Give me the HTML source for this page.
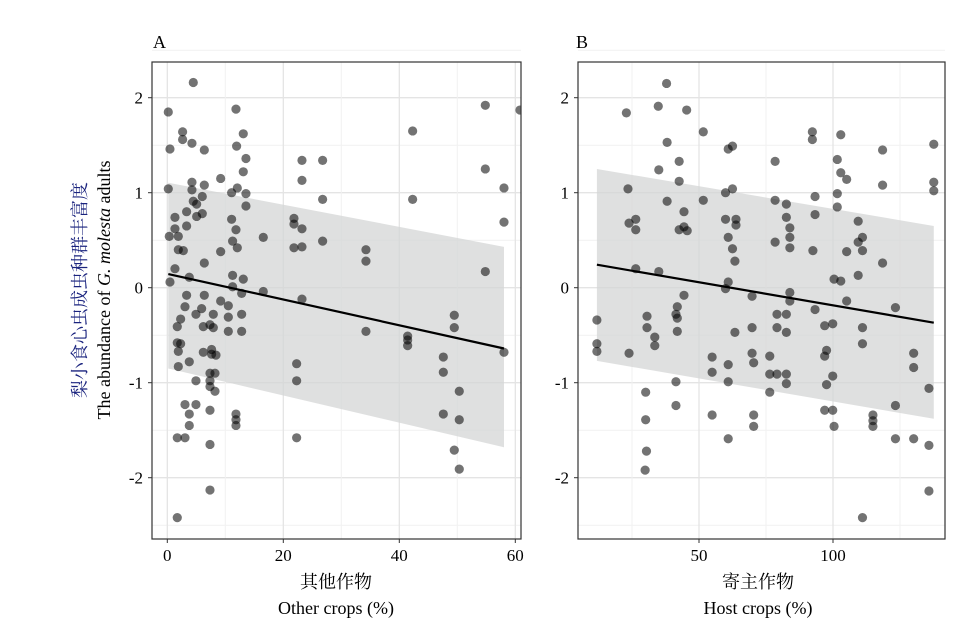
<!DOCTYPE html>
<html><head><meta charset="utf-8"><style>
html,body{margin:0;padding:0;background:#fff;}
svg{display:block;font-family:"Liberation Serif","Noto Serif CJK SC",serif;}
</style></head><body>
<svg id="chart" width="965" height="633" viewBox="0 0 965 633" xmlns="http://www.w3.org/2000/svg">
<text x="153" y="48" font-size="18">A</text>
<text x="576" y="48" font-size="18">B</text>
<g transform="translate(86,290) rotate(-90)">
<text text-anchor="middle" font-size="18" fill="#1a237e" font-family="'Liberation Serif','Noto Serif CJK SC',serif">梨小食心虫成虫种群丰富度</text>
<text text-anchor="middle" y="24" font-size="18" fill="#000">The abundance of <tspan font-style="italic">G. molesta</tspan> adults</text>
</g>
<text x="336" y="588" text-anchor="middle" font-size="18" font-family="'Liberation Serif','Noto Serif CJK SC',serif">其他作物</text>
<text x="336" y="614" text-anchor="middle" font-size="18">Other crops (%)</text>
<text x="758" y="588" text-anchor="middle" font-size="18" font-family="'Liberation Serif','Noto Serif CJK SC',serif">寄主作物</text>
<text x="758" y="614" text-anchor="middle" font-size="18">Host crops (%)</text>
</svg>
<script>
const aX=[4.48,0.17,11.84,2.64,2.64,4.25,13.10,0.46,6.38,11.95,13.56,13.10,23.22,26.78,23.22,9.20,0.17,4.25,4.25,6.38,12.07,11.09,13.56,6.03,4.48,5.06,26.78,13.56,3.33,1.32,6.03,5.06,3.33,1.32,0.34,1.90,11.09,11.84,21.84,21.84,23.22,11.26,12.07,16.55,26.78,1.90,2.76,9.20,21.84,23.22,6.38,1.32,0.46,3.79,11.26,13.10,11.26,12.82,16.55,23.22,3.33,6.38,9.20,10.52,3.05,5.92,4.94,7.93,2.30,1.72,7.36,6.21,7.93,10.52,12.82,10.52,12.82,1.72,2.30,1.90,6.21,7.64,7.64,8.39,3.79,1.90,22.30,7.36,8.22,7.36,7.36,8.22,4.94,22.30,3.05,4.94,3.79,3.79,7.36,11.84,11.84,11.84,1.72,3.05,7.36,22.30,7.36,1.72,54.83,42.30,54.83,58.05,42.30,58.05,34.25,34.25,54.83,49.48,49.48,34.25,41.44,41.44,41.44,58.05,47.59,47.59,50.34,47.59,50.34,49.48,50.34,60.8];
const aY=[2.16,1.85,1.88,1.64,1.56,1.52,1.62,1.46,1.45,1.49,1.36,1.22,1.34,1.34,1.13,1.15,1.04,1.11,1.03,1.08,1.05,1.00,0.99,0.96,0.91,0.88,0.93,0.86,0.80,0.74,0.78,0.75,0.65,0.62,0.54,0.54,0.72,0.61,0.73,0.67,0.62,0.49,0.42,0.53,0.49,0.40,0.39,0.38,0.42,0.43,0.26,0.20,0.06,0.11,0.13,0.09,0.01,-0.06,-0.04,-0.12,-0.08,-0.08,-0.14,-0.19,-0.20,-0.22,-0.28,-0.28,-0.33,-0.41,-0.39,-0.41,-0.42,-0.31,-0.28,-0.46,-0.46,-0.58,-0.59,-0.67,-0.68,-0.65,-0.70,-0.71,-0.78,-0.83,-0.80,-0.90,-0.90,-0.98,-1.04,-1.09,-0.98,-0.98,-1.23,-1.23,-1.33,-1.45,-1.29,-1.33,-1.39,-1.45,-1.58,-1.58,-1.65,-1.58,-2.13,-2.42,1.92,1.65,1.25,1.05,0.93,0.69,0.40,0.28,0.17,-0.29,-0.42,-0.46,-0.51,-0.55,-0.61,-0.68,-0.73,-0.89,-1.09,-1.33,-1.39,-1.71,-1.91,1.87];
const aFitX=[0.17,58.05];
const aFitY=[0.144,-0.64];
const aBandHigh=[1.105,0.43];
const aBandLow=[-0.85,-1.68];
const bX=[37.9,22.9,34.8,45.4,51.6,38.1,92.3,92.3,102.9,60.9,62.5,137.6,118.5,78.4,42.6,101.6,35.0,102.9,105.1,42.6,118.5,137.6,137.6,23.5,62.5,59.9,51.6,38.1,78.4,82.6,93.3,101.6,101.6,44.4,93.3,82.6,59.9,63.8,63.8,23.9,26.4,26.4,42.6,44.4,45.6,109.4,83.9,83.9,60.9,111.0,109.4,78.4,83.9,62.5,92.5,105.1,111.0,63.4,118.5,26.4,35.0,109.4,100.4,102.9,60.9,59.9,69.8,83.9,83.9,105.1,44.4,41.9,41.4,41.9,93.3,123.3,11.9,30.6,30.6,33.5,33.5,41.9,63.4,69.8,79.1,82.6,79.1,82.6,96.9,99.9,111.0,111.0,11.9,11.9,23.9,69.8,70.4,76.4,54.9,60.9,96.9,97.6,130.1,130.1,54.9,76.4,79.1,82.6,82.6,60.9,41.4,99.9,97.6,135.8,30.1,41.4,76.4,123.3,54.9,70.4,70.4,96.9,99.9,114.9,114.9,114.9,100.4,30.1,60.9,123.3,130.1,135.8,30.4,29.9,135.8,111.0];
const bY=[2.15,1.84,1.91,1.87,1.64,1.53,1.64,1.56,1.61,1.46,1.49,1.51,1.45,1.33,1.33,1.35,1.24,1.21,1.14,1.12,1.08,1.11,1.02,1.04,1.04,1.00,0.92,0.91,0.92,0.88,0.96,0.99,0.85,0.80,0.77,0.74,0.72,0.72,0.66,0.68,0.72,0.61,0.61,0.64,0.60,0.70,0.63,0.53,0.53,0.53,0.48,0.48,0.42,0.41,0.39,0.38,0.39,0.28,0.26,0.20,0.17,0.13,0.09,0.07,0.06,-0.01,-0.09,-0.05,-0.14,-0.14,-0.08,-0.20,-0.28,-0.32,-0.23,-0.21,-0.34,-0.30,-0.42,-0.52,-0.61,-0.46,-0.47,-0.42,-0.28,-0.28,-0.42,-0.47,-0.40,-0.38,-0.42,-0.59,-0.59,-0.67,-0.69,-0.69,-0.79,-0.72,-0.73,-0.81,-0.72,-0.66,-0.69,-0.84,-0.89,-0.91,-0.91,-0.91,-1.01,-0.99,-0.99,-0.93,-1.02,-1.06,-1.10,-1.24,-1.10,-1.24,-1.34,-1.34,-1.46,-1.29,-1.29,-1.34,-1.40,-1.46,-1.46,-1.39,-1.59,-1.59,-1.59,-1.66,-1.72,-1.92,-2.14,-2.42];
const bFitX=[11.9,137.6];
const bFitY=[0.242,-0.368];
const bBandHigh=[1.25,0.65];
const bBandLow=[-0.77,-1.38];
const yTicks=[2,1,0,-1,-2];
const yTickLabels=["2","1","0","-1","-2"];
const aXTicks=[0,20,40,60];
const bXTicks=[50,100];

const NS="http://www.w3.org/2000/svg";
const svg=document.getElementById('chart');
function mk(t,attrs,parent){const e=document.createElementNS(NS,t);for(const k in attrs)e.setAttribute(k,attrs[k]);(parent||svg).appendChild(e);return e;}
const Y=v=>287.7-95*v;
const plotTop=62,plotBottom=539;

function panel(id,left,right,X,xs,ys,fx,fy,bh,bl,xticks,minorStep,xmin,xmax){
  const g=mk('g',{});
  
  
  const clipId='clip'+id;
  const cp=mk('clipPath',{id:clipId},g);
  mk('rect',{x:left,y:plotTop,width:right-left,height:plotBottom-plotTop},cp);
  for(let v=-2.5;v<=2.5;v+=0.5){
    const l=mk('line',{x1:left,x2:right,y1:Y(v),y2:Y(v),stroke:Number.isInteger(v)?'#e4e4e4':'#f1f1f1','stroke-width':Number.isInteger(v)?1.3:1},g);
    
    
  }
  for(let v=Math.ceil(xmin/minorStep)*minorStep;v<=xmax;v+=minorStep){
    const l=mk('line',{x1:X(v),x2:X(v),y1:plotTop,y2:plotBottom,stroke:xticks.includes(v)?'#e4e4e4':'#f1f1f1','stroke-width':xticks.includes(v)?1.3:1},g);
    
    
  }
  const band=mk('polygon',{points:`${X(fx[0])},${Y(bh[0])} ${X(fx[1])},${Y(bh[1])} ${X(fx[1])},${Y(bl[1])} ${X(fx[0])},${Y(bl[0])}`,fill:'#d4d6d6','fill-opacity':0.75},g);
  
  
  const pts=mk('g',{'clip-path':`url(#${clipId})`},g);
  
  
  for(let i=0;i<xs.length;i++){
    const c=mk('circle',{cx:X(xs[i]),cy:Y(ys[i]),r:4.6,fill:'#000','fill-opacity':0.55},pts);
    
    
  }
  const ln=mk('line',{x1:X(fx[0]),y1:Y(fy[0]),x2:X(fx[1]),y2:Y(fy[1]),stroke:'#000','stroke-width':2.2},g);
  
  
  const fr=mk('rect',{x:left,y:plotTop,width:right-left,height:plotBottom-plotTop,fill:'none',stroke:'#333','stroke-width':1.2},g);
  
  
  yTicks.forEach((v,i)=>{
    const t=mk('line',{x1:left-4,x2:left,y1:Y(v),y2:Y(v),stroke:'#333'},g);
    
    
    const tx=mk('text',{x:left-9,y:Y(v)+6,'text-anchor':'end','font-size':17},g);
    
    
    tx.textContent=yTickLabels[i];
  });
  xticks.forEach(v=>{
    const t=mk('line',{x1:X(v),x2:X(v),y1:plotBottom,y2:plotBottom+4,stroke:'#333'},g);
    
    
    const tx=mk('text',{x:X(v),y:plotBottom+22,'text-anchor':'middle','font-size':17},g);
    
    
    tx.textContent=String(v);
  });
}
panel('a',152,521,v=>167.3+5.8*v,aX,aY,aFitX,aFitY,aBandHigh,aBandLow,aXTicks,10,-2.4,60.9);
panel('b',578,945,v=>565+2.68*v,bX,bY,bFitX,bFitY,bBandHigh,bBandLow,bXTicks,25,4.7,142);
</script>
</body></html>
